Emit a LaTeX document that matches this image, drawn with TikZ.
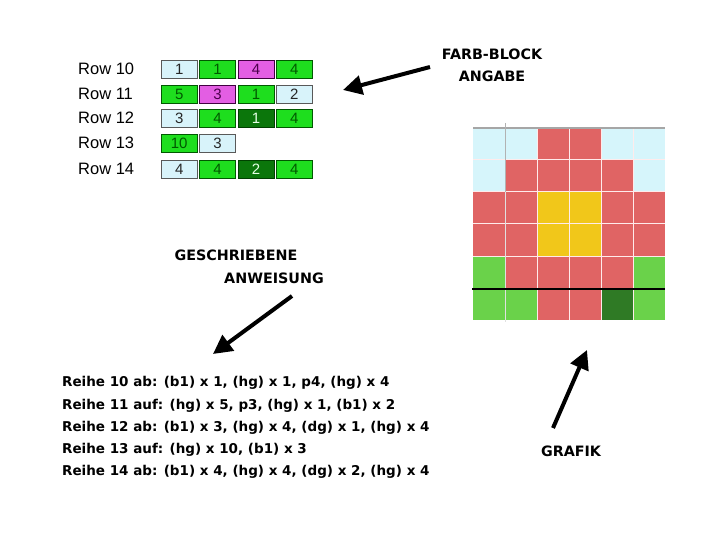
\documentclass[tikz,border=0pt]{standalone}
\usepackage{fontspec}
\setmainfont{Liberation Sans}
\newfontfamily\comic{DejaVu Sans}
\usetikzlibrary{positioning,arrows.meta}
\usepackage{xcolor}

% Farben der Tabelle
\definecolor{hellblau}{HTML}{D8F3FA}
\definecolor{hellgruen}{HTML}{1EDE1E}
\definecolor{pinkfarb}{HTML}{E35EE3}
\definecolor{dunkelgruen}{HTML}{0B760B}
% Farben der Grafik
\definecolor{gblau}{HTML}{D6F5FB}
\definecolor{grot}{HTML}{E06464}
\definecolor{ggelb}{HTML}{F1C71A}
\definecolor{ggruen}{HTML}{6AD24A}
\definecolor{gdgruen}{HTML}{2F7A25}

\begin{document}
\begin{tikzpicture}[x=1pt,y=-1pt]
	% Stile
	\tikzstyle{rowlabel} = [anchor=west, inner sep=0pt, font=\fontsize{16.5}{16.5}\selectfont]
	\tikzstyle{block} = [rectangle, draw=black!65, minimum width=36pt, minimum height=18pt, inner sep=0pt, font=\fontsize{15}{15}\selectfont]
	\tikzstyle{bl} = [block, fill=hellblau, text=black!85]
	\tikzstyle{hg} = [block, fill=hellgruen, draw=green!35!black, text=green!35!black]
	\tikzstyle{pk} = [block, fill=pinkfarb, draw=violet!50!black, text=violet!60!black]
	\tikzstyle{dg} = [block, fill=dunkelgruen, draw=green!25!black, text=green!10]
	\tikzstyle{titel} = [font=\comic\bfseries\fontsize{14.3}{14.3}\selectfont, inner sep=0pt]
	\tikzstyle{anweisung} = [anchor=west, inner sep=0pt, font=\comic\bfseries\fontsize{13.5}{13.5}\selectfont]
	\tikzstyle{arrow} = [line width=4pt, -{Triangle[length=19pt,width=19pt]}]
	\useasboundingbox (0,0) rectangle (720,540);

	% Farb-Block Tabelle
	\node (row10) [rowlabel] at (78,69) {Row 10};
	\node (row11) [rowlabel] at (78,94) {Row 11};
	\node (row12) [rowlabel] at (78,118) {Row 12};
	\node (row13) [rowlabel] at (78,143) {Row 13};
	\node (row14) [rowlabel] at (78,169) {Row 14};

	\node (a1) [bl, anchor=west] at (161,69) {1};
	\node (a2) [hg, right=2pt of a1] {1};
	\node (a3) [pk, right=2pt of a2] {4};
	\node (a4) [hg, right=2pt of a3] {4};

	\node (b1) [hg, anchor=west] at (161,94) {5};
	\node (b2) [pk, right=2pt of b1] {3};
	\node (b3) [hg, right=2pt of b2] {1};
	\node (b4) [bl, right=2pt of b3] {2};

	\node (c1) [bl, anchor=west] at (161,118) {3};
	\node (c2) [hg, right=2pt of c1] {4};
	\node (c3) [dg, right=2pt of c2] {1};
	\node (c4) [hg, right=2pt of c3] {4};

	\node (d1) [hg, anchor=west] at (161,143) {10};
	\node (d2) [bl, right=2pt of d1] {3};

	\node (e1) [bl, anchor=west] at (161,169) {4};
	\node (e2) [hg, right=2pt of e1] {4};
	\node (e3) [dg, right=2pt of e2] {2};
	\node (e4) [hg, right=2pt of e3] {4};

	% Grafik (6 x 6 Kaestchen)
	\foreach \farben [count=\r from 0] in {
		{gblau,gblau,grot,grot,gblau,gblau},
		{gblau,grot,grot,grot,grot,gblau},
		{grot,grot,ggelb,ggelb,grot,grot},
		{grot,grot,ggelb,ggelb,grot,grot},
		{ggruen,grot,grot,grot,grot,ggruen},
		{ggruen,ggruen,grot,grot,gdgruen,ggruen}}
		\foreach \f [count=\c from 0] in \farben
			\fill[\f] (473+32*\c,128+32*\r) rectangle ++(32,32);
	\foreach \i in {1,...,5} {
		\draw[red!8, line width=1pt] (473+32*\i,128) -- (473+32*\i,320);
		\draw[red!8, line width=1pt] (473,128+32*\i) -- (665,128+32*\i);
	}
	\draw[black!35, line width=1.2pt] (473,128) -- (665,128);
	\draw[black!30, line width=1pt] (505,123) -- (505,192);
	\draw[black!12, line width=1pt] (505,192) -- (505,322);
	\draw[black, line width=2pt] (472,289) -- (665,289);

	% Beschriftungen
	\node (farb) [titel] at (492,54) {FARB-BLOCK};
	\node (angabe) [titel] at (492,76) {ANGABE};
	\node (gesch) [titel] at (236,255) {GESCHRIEBENE};
	\node (anweis) [titel] at (274,278) {ANWEISUNG};
	\node (grafik) [titel] at (571,451) {GRAFIK};

	% geschriebene Anweisung
	\node (z10) [anweisung] at (62,383) {Reihe 10 ab: (b1) x 1, (hg) x 1, p4, (hg) x 4};
	\node (z11) [anweisung] at (62,406) {Reihe 11 auf: (hg) x 5, p3, (hg) x 1, (b1) x 2};
	\node (z12) [anweisung] at (62,428) {Reihe 12 ab: (b1) x 3, (hg) x 4, (dg) x 1, (hg) x 4};
	\node (z13) [anweisung] at (62,450) {Reihe 13 auf: (hg) x 10, (b1) x 3};
	\node (z14) [anweisung] at (62,472) {Reihe 14 ab: (b1) x 4, (hg) x 4, (dg) x 2, (hg) x 4};

	% Pfeile
	\coordinate (tail1) at (430,67);
	\coordinate (tip1) at (343,90);
	\coordinate (tail2) at (292,296);
	\coordinate (tip2) at (213,354);
	\coordinate (tail3) at (553,428);
	\coordinate (tip3) at (587,350);
	\draw [arrow] (tail1) -- (tip1);
	\draw [arrow] (tail2) -- (tip2);
	\draw [arrow] (tail3) -- (tip3);
\end{tikzpicture}
\end{document}
